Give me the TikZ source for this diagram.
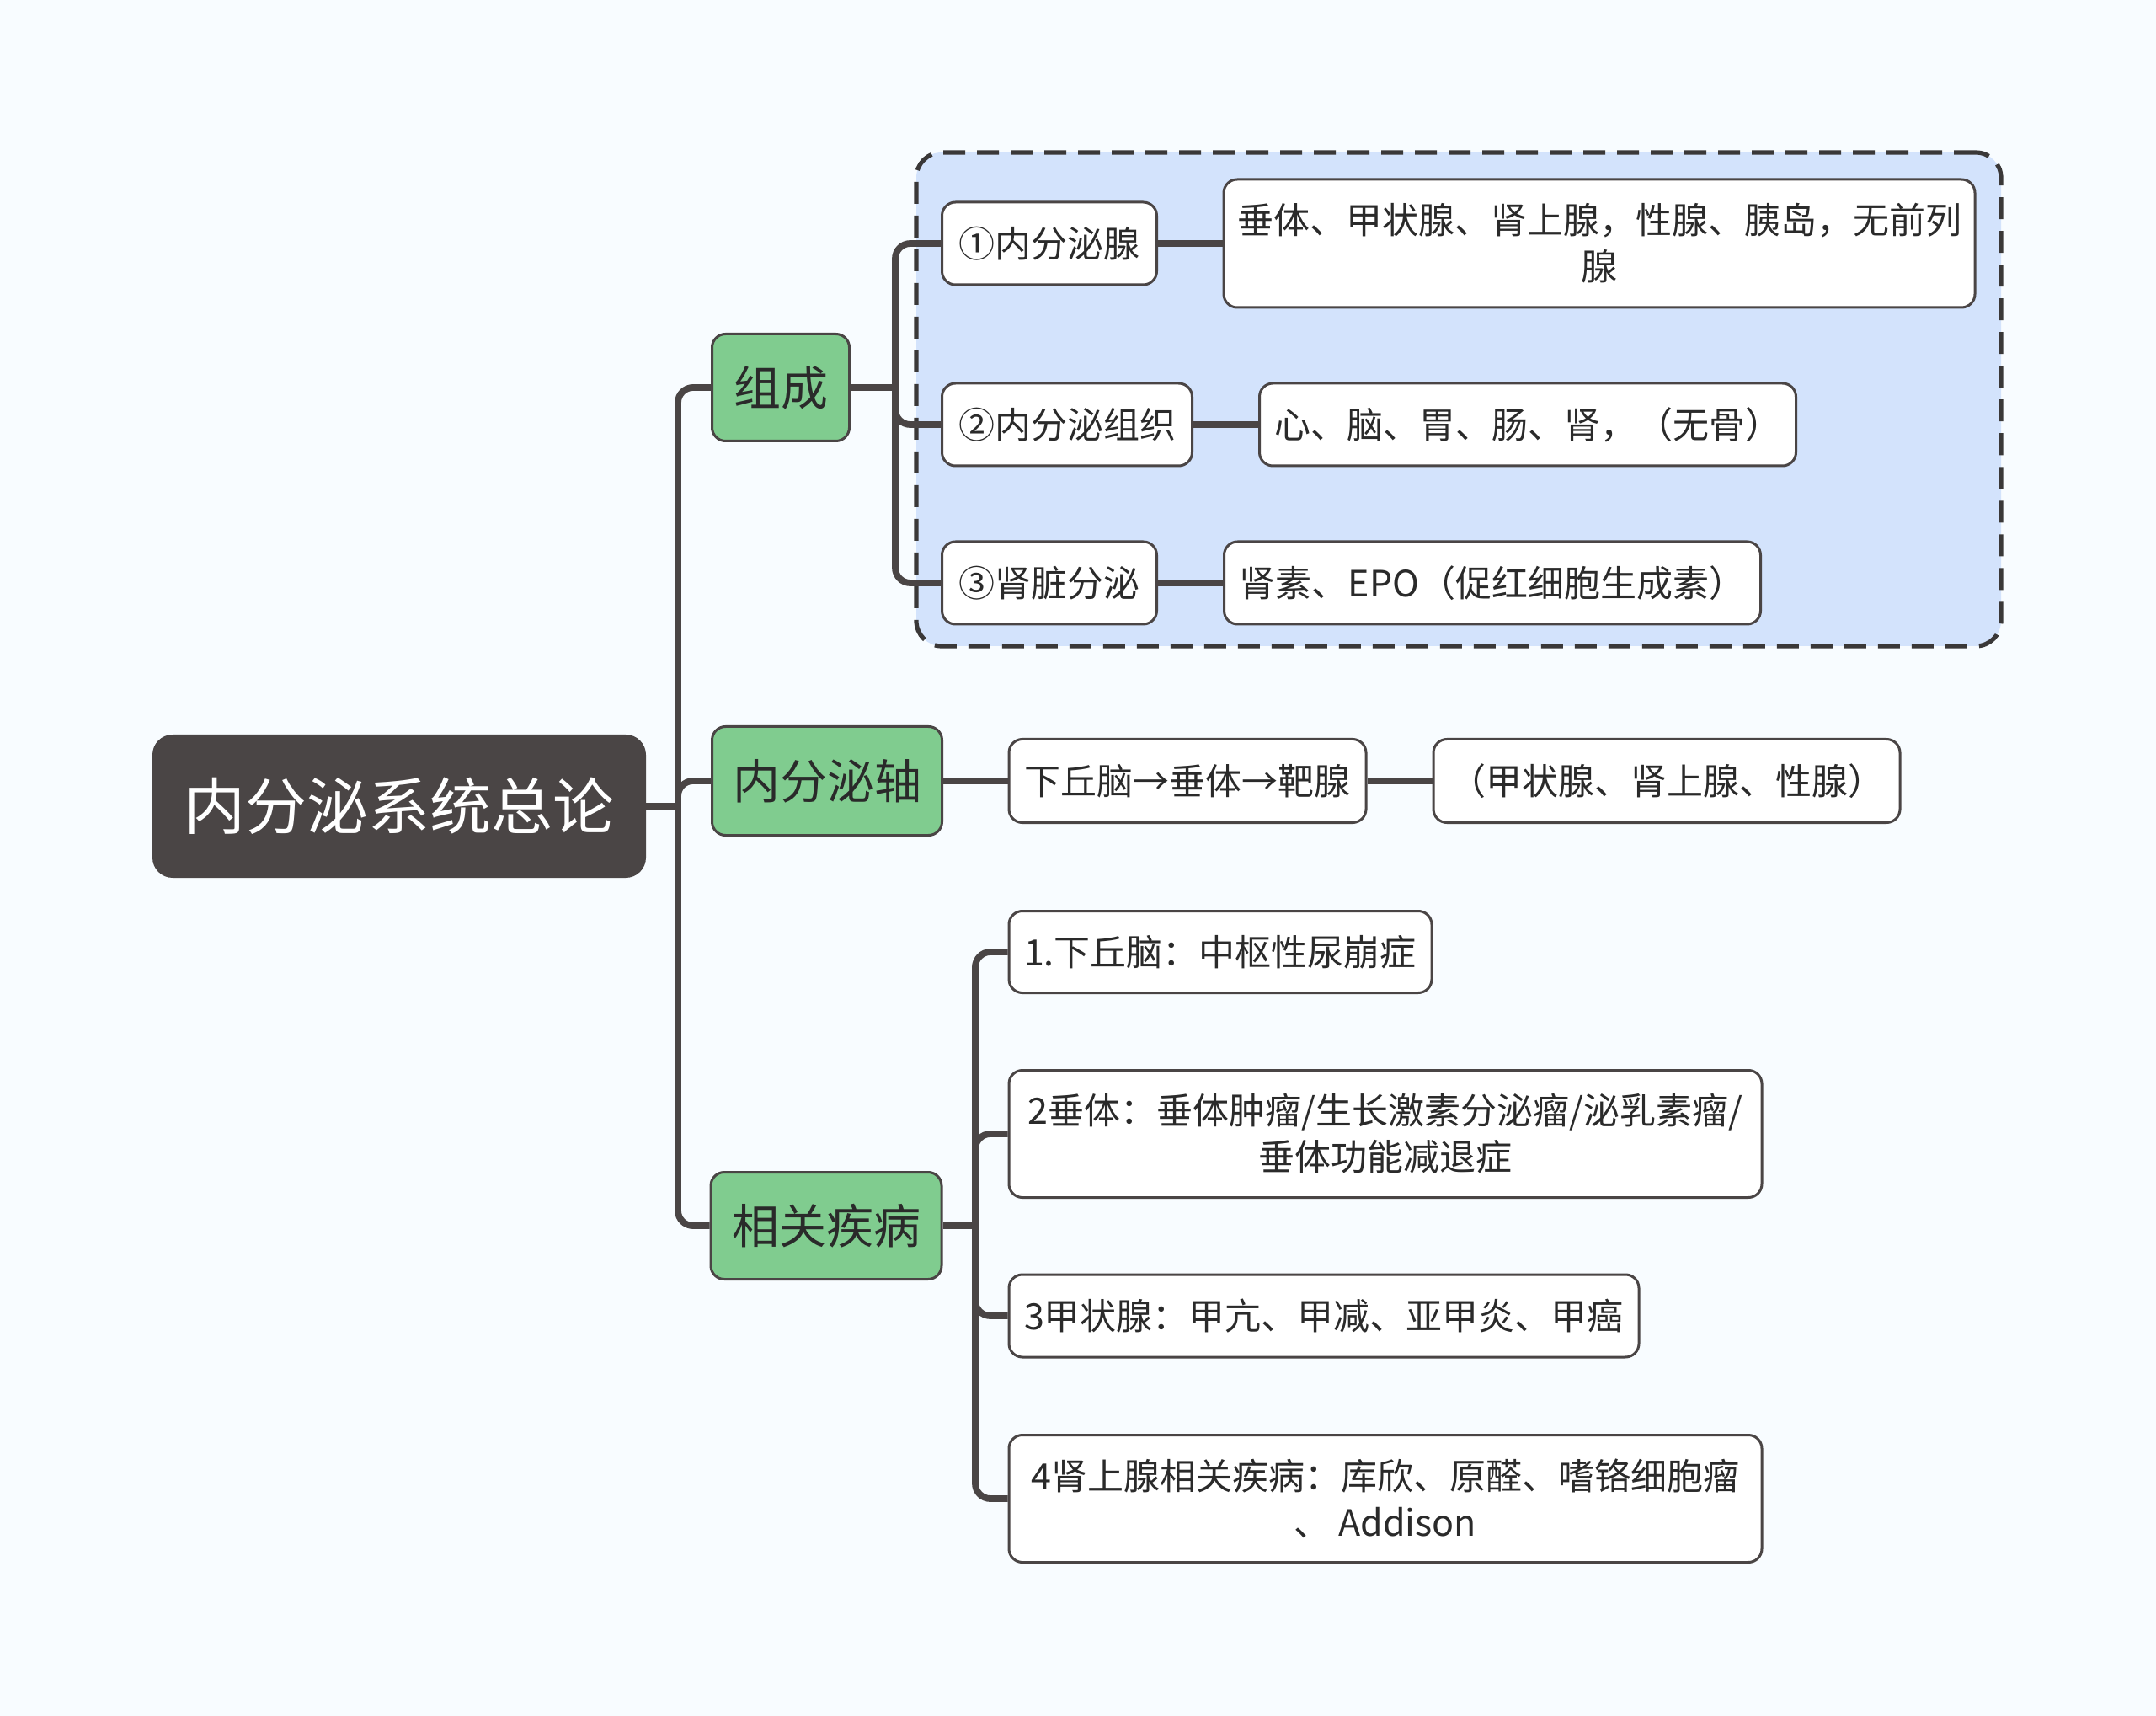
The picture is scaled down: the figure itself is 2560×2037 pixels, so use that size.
\documentclass[tikz,border=0pt]{standalone}
\usepackage{fontspec}
\setmainfont{Noto Sans CJK SC}
\usetikzlibrary{calc}
\definecolor{bgc}{HTML}{F8FCFF}
\definecolor{dark}{HTML}{4A4545}
\definecolor{dashc}{HTML}{3A3838}
\definecolor{grn}{HTML}{80CC8F}
\definecolor{lblue}{HTML}{D3E3FC}
\definecolor{txt}{HTML}{2A2A2A}
\pgfdeclarelayer{back}
\pgfdeclarelayer{mid}
\pgfsetlayers{back,mid,main}
\begin{document}
\begin{tikzpicture}[x=0.5pt,y=-0.5pt,
 conn/.style={draw=dark, line width=3.9pt, rounded corners=9pt},
 wh/.style 2 args={minimum width=#1*0.5pt, minimum height=#2*0.5pt},
 rootbox/.style={rectangle, rounded corners=12pt, fill=dark, text=white, font=\fontsize{36.5}{44}\selectfont, inner sep=0pt},
 l1box/.style={rectangle, rounded corners=8pt, fill=grn, draw=dark, line width=1.5pt, text=txt, font=\fontsize{28}{34}\selectfont, inner sep=0pt},
 l2box/.style={rectangle, rounded corners=8pt, fill=white, draw=dark, line width=1.5pt, text=txt, font=\fontsize{21.5}{27.5}\selectfont, inner sep=0pt, align=center},
 grpbox/.style={rectangle, rounded corners=15pt, fill=lblue, draw=dashc, line width=2.6pt, dash pattern=on 13pt off 7pt},
]
\begin{pgfonlayer}{back}
\fill[bgc] (0,0) rectangle (2560,2037);
\node[grpbox, wh={1288}{586}] (grp) at (1732,474) {};
\end{pgfonlayer}
\useasboundingbox (0,0) rectangle (2560,2037);

\node[rootbox, wh={586}{170}] (root) at (474,957) {内分泌系统总论};
\node[l1box, wh={163}{127}] (zc) at (927,460) {组成};
\node[l1box, wh={273}{129}] (axis) at (982,927) {内分泌轴};
\node[l1box, wh={274}{127}] (dis) at (981,1455) {相关疾病};

\node[l2box, wh={255}{98}] (a1) at (1246,289) {①内分泌腺};
\node[l2box, wh={892}{152}] (b1) at (1899,289) {垂体、甲状腺、肾上腺，性腺、胰岛，无前列\\腺};
\node[l2box, wh={297}{98}] (a2) at (1267,504) {②内分泌组织};
\node[l2box, wh={637}{98}] (b2) at (1814,504) {心、脑、胃、肠、肾，（无骨）};
\node[l2box, wh={255}{98}] (a3) at (1246,692) {③肾脏分泌};
\node[l2box, wh={637}{98}] (b3) at (1772,692) {肾素、EPO（促红细胞生成素）};

\node[l2box, wh={424}{99}] (c1) at (1410,927) {下丘脑→垂体→靶腺};
\node[l2box, wh={554}{99}] (c2) at (1979,927) {（甲状腺、肾上腺、性腺）};

\node[l2box, wh={502}{97}] (d1) at (1449,1130) {1.下丘脑：中枢性尿崩症};
\node[l2box, wh={894}{151}] (d2) at (1645,1346) {2垂体：垂体肿瘤/生长激素分泌瘤/泌乳素瘤/\\垂体功能减退症};
\node[l2box, wh={748}{98}] (d3) at (1572,1562) {3甲状腺：甲亢、甲减、亚甲炎、甲癌};
\node[l2box, wh={894}{151}] (d4) at (1645,1779) {4肾上腺相关疾病：库欣、原醛、嗜铬细胞瘤\\、 Addison};

\coordinate (j0) at (805,957);
\coordinate (j1) at (1063,460);
\coordinate (j2) at (1158,1455);

\begin{pgfonlayer}{mid}
\draw[conn] (root.east) -- (j0);
\draw[conn] (j0) |- (zc.west);
\draw[conn] (j0) |- (axis.west);
\draw[conn] (j0) |- (dis.west);
\draw[conn] (zc.east) -- (j1);
\draw[conn] (j1) |- (a1.west);
\draw[conn] (j1) |- (a2.west);
\draw[conn] (j1) |- (a3.west);
\draw[conn] (a1.east) -- (b1.west);
\draw[conn] (a2.east) -- (b2.west);
\draw[conn] (a3.east) -- (b3.west);
\draw[conn] (axis.east) -- (c1.west);
\draw[conn] (c1.east) -- (c2.west);
\draw[conn] (dis.east) -- (j2);
\draw[conn] (j2) |- (d1.west);
\draw[conn] (j2) |- (d2.west);
\draw[conn] (j2) |- (d3.west);
\draw[conn] (j2) |- (d4.west);
\end{pgfonlayer}
\end{tikzpicture}
\end{document}
